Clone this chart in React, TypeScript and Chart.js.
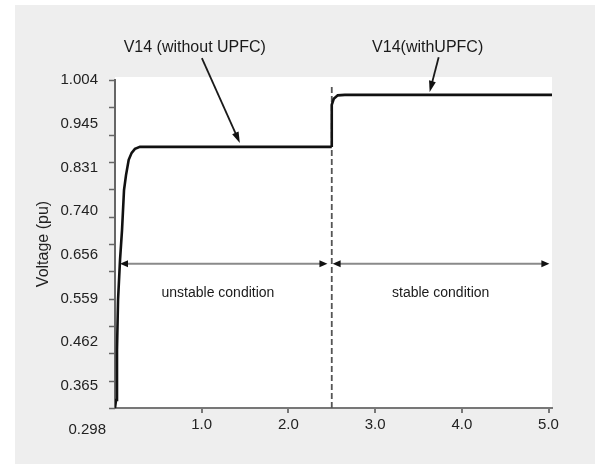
import React, { useEffect, useRef } from 'react';
import { Chart, registerables } from 'chart.js';

Chart.register(...registerables);

// ---- data (time in s, voltage in pu) ----
const T_WITHOUT = [0, 0.012, 0.023, 0.035, 0.058, 0.081, 0.104, 0.127, 0.158, 0.192, 0.23, 0.288, 2.5];
const V_WITHOUT = [0.342, 0.358, 0.459, 0.56, 0.641, 0.701, 0.782, 0.812, 0.843, 0.857, 0.865, 0.869, 0.869];
const T_WITH = [2.5, 2.5, 2.523, 2.569, 2.65, 5.04];
const V_WITH = [0.869, 0.954, 0.966, 0.973, 0.974, 0.974];

const X_TICKS = [1, 2, 3, 4, 5];
const X_MAX = 5.04;
const Y_TICK_LABELS = ['1.004', '0.945', '0.831', '0.740', '0.656', '0.559', '0.462', '0.365', '0.298'];
const Y_TOP = 1.004;
const Y_LABEL_STEP = 0.08825;
const Y_BOTTOM = 0.342;
const Y_MINOR_COUNT = 12;

const SWITCH_T = 2.5;
const SWITCH_TOP = 0.994;

const RANGE_ARROWS = [
  { from: 0.058, to: 2.45, v: 0.633 },
  { from: 2.51, to: 5.01, v: 0.633 },
];
const CALLOUT_ARROWS = [
  { t0: 1.002, v0: 1.048, t1: 1.44, v1: 0.877 },
  { t0: 3.733, v0: 1.05, t1: 3.629, v1: 0.98 },
];
const CALLOUT_TEXT = [
  { text: 'V14 (without UPFC)', t: 0.92, v: 1.069 },
  { text: 'V14(withUPFC)', t: 3.606, v: 1.069 },
];
const REGION_TEXT = [
  { text: 'unstable condition', t: 1.187, v: 0.574 },
  { text: 'stable condition', t: 3.756, v: 0.574 },
];

const FONT = '"Liberation Sans", Arial, sans-serif';

function head(ctx: CanvasRenderingContext2D, x: number, y: number, ang: number, len: number, half: number) {
  const c = Math.cos(ang), s = Math.sin(ang);
  ctx.beginPath();
  ctx.moveTo(x, y);
  ctx.lineTo(x - len * c + half * s, y - len * s - half * c);
  ctx.lineTo(x - len * c - half * s, y - len * s + half * c);
  ctx.closePath();
  ctx.fill();
}

const decor = {
  id: 'decor',
  beforeDraw(chart: any) {
    const { ctx, chartArea: a } = chart;
    ctx.save();
    ctx.fillStyle = '#ffffff';
    ctx.fillRect(a.left, a.top - 3, a.right - a.left, a.bottom - a.top + 3);
    ctx.restore();
  },
  afterDraw(chart: any) {
    const { ctx, chartArea: a } = chart;
    const xs = chart.scales.x;
    const ys = chart.scales.y;
    const px = (t: number) => xs.getPixelForValue(t);
    const py = (v: number) => ys.getPixelForValue(v);
    ctx.save();

    // minor tick marks on the y axis
    ctx.strokeStyle = '#666';
    ctx.lineWidth = 1.5;
    for (let i = 0; i <= Y_MINOR_COUNT; i++) {
      const y = Math.round(py(Y_TOP - (i * (Y_TOP - Y_BOTTOM)) / Y_MINOR_COUNT)) + 0.5;
      ctx.beginPath();
      ctx.moveTo(a.left - 6, y);
      ctx.lineTo(a.left, y);
      ctx.stroke();
    }

    // last y label below the axis
    ctx.fillStyle = '#222';
    ctx.font = `15px ${FONT}`;
    ctx.textAlign = 'right';
    ctx.textBaseline = 'middle';
    const lastIdx = Y_TICK_LABELS.length - 1;
    ctx.fillText(Y_TICK_LABELS[lastIdx], a.left - 9, py(Y_TOP - lastIdx * Y_LABEL_STEP));

    // range arrows
    for (const r of RANGE_ARROWS) {
      const y = py(r.v);
      const x0 = px(r.from), x1 = px(r.to);
      ctx.strokeStyle = '#8a8a8a';
      ctx.lineWidth = 2;
      ctx.beginPath();
      ctx.moveTo(x0 + 4, y);
      ctx.lineTo(x1 - 4, y);
      ctx.stroke();
      ctx.fillStyle = '#111';
      head(ctx, x0, y, Math.PI, 8, 3.5);
      head(ctx, x1, y, 0, 8, 3.5);
    }

    // callout arrows
    for (const c of CALLOUT_ARROWS) {
      const x0 = px(c.t0), y0 = py(c.v0), x1 = px(c.t1), y1 = py(c.v1);
      const ang = Math.atan2(y1 - y0, x1 - x0);
      ctx.strokeStyle = '#1a1a1a';
      ctx.lineWidth = 1.8;
      ctx.beginPath();
      ctx.moveTo(x0, y0);
      ctx.lineTo(x1 - 8 * Math.cos(ang), y1 - 8 * Math.sin(ang));
      ctx.stroke();
      ctx.fillStyle = '#111';
      head(ctx, x1, y1, ang, 11, 3.5);
    }

    // texts
    ctx.fillStyle = '#1a1a1a';
    ctx.textAlign = 'center';
    ctx.textBaseline = 'middle';
    ctx.font = `16px ${FONT}`;
    for (const c of CALLOUT_TEXT) ctx.fillText(c.text, px(c.t), py(c.v));
    ctx.font = `14px ${FONT}`;
    for (const r of REGION_TEXT) ctx.fillText(r.text, px(r.t), py(r.v));

    ctx.restore();
  },
};

export default function App() {
  const ref = useRef<HTMLCanvasElement>(null);

  useEffect(() => {
    document.body.style.margin = '0';
    Chart.defaults.font.family = FONT;
    const chart = new Chart(ref.current as HTMLCanvasElement, {
      type: 'line',
      data: {
        datasets: [
          {
            label: 'V14 (without UPFC)',
            data: T_WITHOUT.map((t, i) => ({ x: t, y: V_WITHOUT[i] })),
            borderColor: '#111',
            borderWidth: 2.6,
            pointRadius: 0,
            tension: 0,
          },
          {
            label: 'V14 (with UPFC)',
            data: T_WITH.map((t, i) => ({ x: t, y: V_WITH[i] })),
            borderColor: '#111',
            borderWidth: 2.6,
            pointRadius: 0,
            tension: 0,
          },
          {
            label: 'switch',
            data: [
              { x: SWITCH_T, y: Y_BOTTOM },
              { x: SWITCH_T, y: SWITCH_TOP },
            ],
            borderColor: '#555',
            borderWidth: 1.8,
            borderDash: [6, 3],
            pointRadius: 0,
          },
        ],
      },
      options: {
        responsive: false,
        animation: false,
        devicePixelRatio: 1,
        layout: { padding: { left: 0, top: 80, right: 43, bottom: 16 } },
        plugins: { legend: { display: false }, tooltip: { enabled: false } },
        scales: {
          x: {
            type: 'linear',
            min: 0,
            max: X_MAX,
            afterBuildTicks: (scale: any) => {
              scale.ticks = X_TICKS.map((v) => ({ value: v }));
            },
            afterFit: (scale: any) => {
              scale.height = 40;
            },
            ticks: {
              autoSkip: false,
              maxRotation: 0,
              padding: 3,
              color: '#222',
              font: { size: 15, family: FONT },
              callback: (v: any) => Number(v).toFixed(1),
            },
            grid: { drawOnChartArea: false, drawTicks: true, tickLength: 5, color: '#777', lineWidth: 2 },
            border: { display: true, color: '#777', width: 2 },
          },
          y: {
            type: 'linear',
            min: Y_BOTTOM,
            max: Y_TOP,
            afterBuildTicks: (scale: any) => {
              scale.ticks = Y_TICK_LABELS.slice(0, -1).map((_, i) => ({ value: Y_TOP - i * Y_LABEL_STEP }));
            },
            afterFit: (scale: any) => {
              scale.width = 115;
            },
            ticks: {
              autoSkip: false,
              padding: 9,
              color: '#222',
              font: { size: 15, family: FONT },
              callback: (_v: any, i: number) => Y_TICK_LABELS[i],
            },
            grid: { display: false },
            border: { display: true, color: '#666', width: 2 },
            title: {
              display: true,
              text: 'Voltage (pu)',
              color: '#222',
              font: { size: 16, family: FONT },
              padding: { top: 34, bottom: 0 },
            },
          },
        },
      },
      plugins: [decor],
    } as any);
    return () => chart.destroy();
  }, []);

  return (
    <div style={{ position: 'relative', width: 595, height: 464, background: '#fff', overflow: 'hidden' }}>
      <div style={{ position: 'absolute', left: 15, top: 5, right: 0, bottom: 0, background: '#eeeeee' }} />
      <canvas
        ref={ref}
        width={595}
        height={464}
        style={{ position: 'absolute', left: 0, top: 0, width: 595, height: 464, display: 'block' }}
      />
    </div>
  );
}
